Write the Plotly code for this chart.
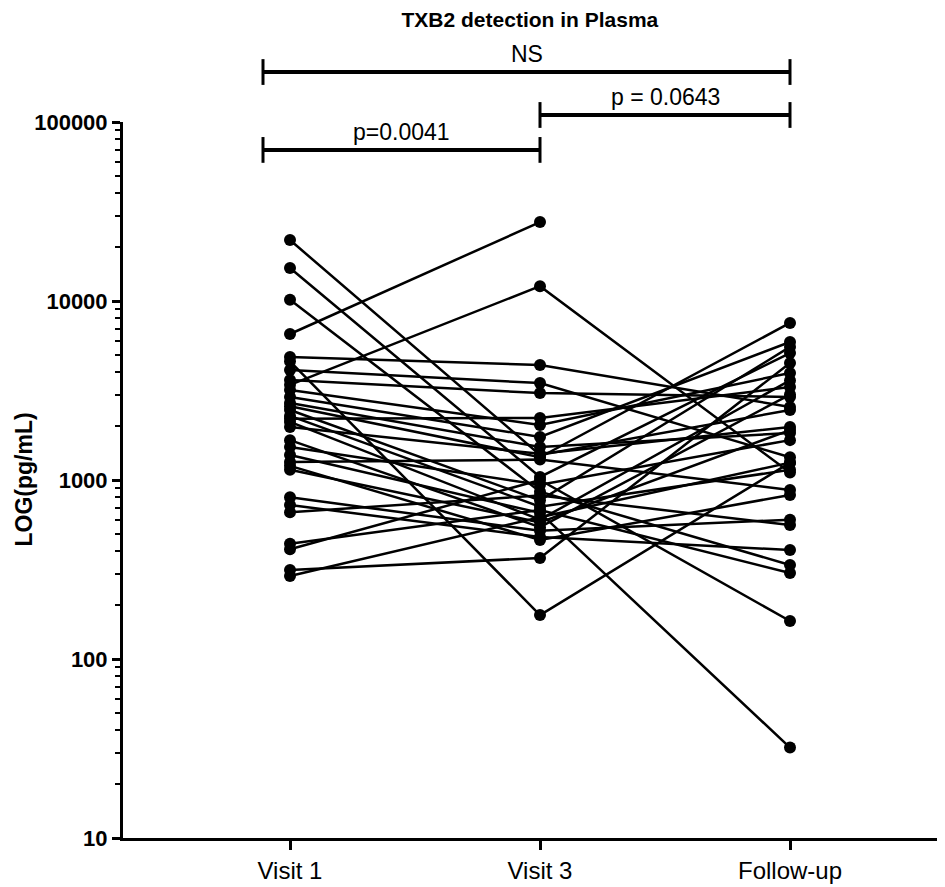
"""
TXB2 detection in plasma - paired values per subject across visits
"""

import plotly.graph_objects as go

CATEGORIES = ['Visit 1', 'Visit 3', 'Follow-up']

# one entry per subject, pg/mL (None = no sample)
VISIT1 = [21900, 15300, 10150, 6540, 4870, 4600, 4120, 3400, 3620, 3180,
          2910, 2690, 2580, 2460, 2280, 2200, 2110, 1980, 1670, 1530,
          1380, 1260, 1200, 1140, 800, 725, 660, 440, 410, 314, 291]
VISIT3 = [1380, 1040, 860, 27600, 4390, 176, 3480, 12100, 3060, 2030,
          1740, 1530, 1340, 770, 710, 2220, 600, 1400, 545, 940,
          655, 1300, 462, 580, 520, 480, 820, 680, 1000, 367, 620]
FOLLOWUP = [2460, 5120, 335, None, 2560, 1250, 1340, 1100, 2910, 3960,
            5900, 1830, 7540, 5540, 1140, 3310, 3600, 1980, 3000, 1670,
            32, 880, 825, 1900, 600, 406, 560, 302, 163, 4510, 1250]

BRACKETS = [('p=0.0041', 'Visit 1', 'Visit 3'),
            ('p = 0.0643', 'Visit 3', 'Follow-up'),
            ('NS', 'Visit 1', 'Follow-up')]

FONT = 'Liberation Sans, Arial, sans-serif'

fig = go.Figure()
for v1, v3, fu in zip(VISIT1, VISIT3, FOLLOWUP):
    fig.add_trace(go.Scatter(
        x=CATEGORIES, y=[v1, v3, fu], mode='lines+markers',
        line=dict(color='black', width=2.5),
        marker=dict(color='black', size=12),
        showlegend=False, hoverinfo='y'))

# significance brackets (paper y for vertical placement)
bracket_y = {'p=0.0041': 0.961, 'p = 0.0643': 1.0098, 'NS': 1.0698}
idx = {c: i for i, c in enumerate(CATEGORIES)}
for label, a, b in BRACKETS:
    y0 = bracket_y[label]
    xa = idx[a] - 0.108 if a == 'Visit 1' else idx[a]
    xb = idx[b]
    line = dict(color='black', width=4)
    fig.add_shape(type='line', xref='x', yref='paper', x0=xa, x1=xb, y0=y0, y1=y0, line=line)
    for xx in (xa, xb):
        fig.add_shape(type='line', xref='x', yref='paper', x0=xx, x1=xx,
                      y0=y0 - 0.018, y1=y0 + 0.018, line=dict(color='black', width=3))
    fig.add_annotation(x=(xa + xb) / 2, y=y0 + 0.004, xref='x', yref='paper',
                       text=label, showarrow=False, yanchor='bottom',
                       font=dict(family=FONT, size=23, color='black'))

fig.add_annotation(x=-0.121, y=0.5, xref='paper', yref='paper', text='LOG(pg/mL)',
                   textangle=-90, showarrow=False, xanchor='center', yanchor='middle',
                   font=dict(family=FONT, size=23, color='black', weight='bold'))

# page body adds 8px offset, so figure is sized/margined to compensate
fig.update_layout(
    width=937, height=879,
    margin=dict(l=115, r=0, t=114, b=49),
    plot_bgcolor='white', paper_bgcolor='white',
    title=dict(text='TXB2 detection in Plasma', x=0.557, xanchor='center', y=0.987, yanchor='middle',
               font=dict(family=FONT, size=21, color='black', weight='bold')),
    xaxis=dict(type='category', range=[-0.668, 2.62], showline=True, linecolor='black', linewidth=3,
               ticks='outside', ticklen=9, tickwidth=2.5, tickcolor='black', showgrid=False,
               tickfont=dict(family=FONT, size=24, color='black'), zeroline=False),
    yaxis=dict(type='log', range=[1, 5], dtick=1, tickformat='d', showline=True,
               linecolor='black', linewidth=3, ticks='outside', ticklen=8, tickwidth=2.5,
               tickcolor='black', showgrid=False, zeroline=False,
               tickfont=dict(family=FONT, size=22, color='black', weight='bold'),
               minor=dict(dtick='D1', ticks='outside', ticklen=5, tickwidth=2, tickcolor='black',
                          showgrid=False)),
)

fig.write_html('out.html')
